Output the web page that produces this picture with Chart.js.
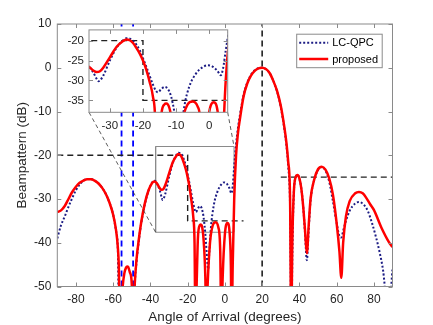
<!DOCTYPE html>
<html>
<head>
<meta charset="utf-8">
<script src="https://cdn.jsdelivr.net/npm/chart.js"></script>
<style>
  html, body { margin: 0; padding: 0; background: #fff; }
  #wrap { position: relative; width: 433px; height: 325px; }
  #main { position: absolute; left: 0; top: 0; }
  #inset { position: absolute; left: 60px; top: 18px; }
</style>
</head>
<body>
<div id="wrap">
  <canvas id="main" width="433" height="325"></canvas>
  <canvas id="inset" width="175" height="118"></canvas>
</div>
<script>
// beampattern values (dB vs angle of arrival in degrees)
const angProp = [-90,-88,-86,-84,-82,-80,-78,-76,-74,-72,-70,-68,-66,-64,-62,-60,-58.5,-57.5,-57,-56.3,-55,-54,-53,-52.5,-52,-51,-50,-49.5,-48.5,-47.5,-46,-45,-43,-41,-39,-38,-37,-36,-35,-34,-33,-32,-30,-28,-26,-25,-24,-23,-22,-21,-20,-19,-18,-17,-16.3,-15.8,-15.2,-14.5,-13.5,-13,-12.5,-11.5,-10.5,-10,-9.3,-8,-6.5,-5,-3.5,-2.5,-1.9,-1.2,0,1.4,2.5,3.2,3.6,4.2,5,6,7,8,10,12,14,16,18,20,22,24,26,28,30,32,33,34,35,35.6,36.2,37,38,39,40,41,42,43,44,45,46,48,50,52,54,56,58,60,61.5,62.5,63.5,65,67,70,72,74,76,78,80,84,88,90];
const dbProp = [-33,-32.6,-31.6,-30,-28.4,-27.2,-26.3,-25.8,-25.5,-25.5,-25.8,-26.4,-27.4,-28.8,-30.8,-33.6,-37,-41,-45,-60,-50.5,-47,-45.6,-45.4,-45.5,-46.8,-49.5,-60,-50,-44,-38.5,-35.5,-31,-28,-26.3,-26,-26.2,-26.8,-27.5,-27.9,-27.7,-26.8,-24.2,-21.6,-20.1,-19.7,-19.9,-20.6,-21.8,-23.2,-25,-27.3,-30.3,-34,-40,-60,-50,-39,-36,-35.8,-36,-39,-48,-60,-50,-40,-36,-35.3,-36.5,-42,-60,-48,-38,-35.5,-37.5,-45,-60,-45,-30,-20,-15,-11.9,-6.6,-3.6,-1.8,-0.7,-0.15,0,-0.3,-1.2,-3,-5.3,-8.7,-13.8,-17,-21.5,-30,-60,-40,-28.5,-25,-24.5,-25.3,-27.5,-31.5,-37,-42.4,-36,-30,-25.5,-23.2,-22.6,-23.3,-25.3,-29,-35.5,-42,-48,-40,-34,-30.5,-28.7,-28.4,-28.7,-29.8,-31.2,-32.5,-36.5,-39.8,-41];

const angLc = [-90,-88,-86,-84,-82,-80,-78,-76,-74,-72,-70,-68,-66,-64,-62,-60,-58.5,-57.5,-56.8,-55,-52,-49,-48.4,-47.5,-46,-45,-43,-41,-39,-38,-37,-36,-35,-34,-33.5,-33,-32,-30,-28,-26,-25,-24,-23,-22,-21,-20,-19,-18,-17,-16,-15.5,-14.5,-13.5,-12.5,-11.5,-10.5,-9.5,-9,-8.5,-7.5,-6,-4,-2,-0.5,1,2.5,3.5,4.2,5,6,7,8,10,12,14,16,18,20,22,24,26,28,30,32,33,34,35,35.7,36.3,37,38,39,40,41,42,43,44,45,46,48,50,52,54,56,58,60,61.5,62.5,63.5,65,67,70,72,75,77,79,81,83,85,86.5,88.5,90];
const dbLc = [-39,-36,-34,-31.8,-29.8,-28,-26.7,-25.8,-25.4,-25.4,-25.8,-26.4,-27.4,-28.8,-30.8,-33.6,-37.2,-41.5,-60,-65,-65,-60,-50,-44.5,-38.8,-35.7,-31.2,-28.1,-26.2,-25.8,-26,-26.8,-28,-29.6,-30.2,-30,-28.8,-25,-21.8,-19.9,-19.4,-19.5,-20,-21,-22.4,-24.4,-26.5,-28.8,-31,-32.7,-33,-32.2,-31.6,-32.1,-34,-38,-44,-46,-43,-36.5,-31.5,-28.3,-26.7,-26.2,-26.5,-27.6,-28.7,-27,-22.5,-17.5,-13.8,-11,-6.3,-3.4,-1.6,-0.6,-0.1,0,-0.3,-1.2,-3,-5.4,-8.9,-14.2,-17.6,-22.5,-32,-60,-40,-28.7,-25.1,-24.5,-25.3,-27.5,-31.5,-37.5,-44,-37,-30.3,-25.6,-23.4,-22.7,-23.5,-26,-30.5,-35.5,-38.5,-38.8,-37.3,-35,-32.7,-31,-30.7,-31.5,-33,-35.5,-38.5,-42,-46.5,-52,-53,-46];

const xTicks = [-80, -60, -40, -20, 0, 20, 40, 60, 80];
const yTicks = [-50, -40, -30, -20, -10, 0, 10];
const insetXTicks = [-30, -20, -10, 0];
const insetYTicks = [-35, -30, -25, -20];

// mask lines
const maskAng = [-90, -20, -20, 10];
const maskDb = [-20, -20, -35, -35];
const sideAng = [30, 90];
const sideDb = [-25, -25];
const lookDir = 20;
const nullDirs = [-55.5, -49.3];

// zoomed region (box in main plot) and inset axis limits
const zoomX = [-37.2, 4.9];
const zoomY = [-37.6, -18];
const insetX = [-36.3, 5.6];
const insetY = [-38, -17.3];

const pts = (xs, ys) => xs.map((x, i) => ({ x: x, y: ys[i] }));
const FONT = "'Liberation Sans', Arial, Helvetica, sans-serif";
const TXT = '#262626';

function curveSets() {
  return [
    { label: 'proposed', data: pts(angProp, dbProp), borderColor: '#ff0000', borderWidth: 2.5,
      cubicInterpolationMode: 'monotone', order: 0 },
    { label: 'LC-QPC', data: pts(angLc, dbLc), borderColor: '#1c1c84', borderWidth: 2,
      borderDash: [2, 2], cubicInterpolationMode: 'monotone', order: 1 },
    { data: pts(maskAng, maskDb), borderColor: '#222', borderWidth: 1.4, borderDash: [6, 4], order: 2 }
  ];
}

// box with inward ticks, MATLAB style
const frame = {
  id: 'frame',
  afterDatasetsDraw(chart) {
    const { ctx, chartArea: a, scales: { x, y } } = chart;
    const t = 4;
    ctx.save();
    ctx.strokeStyle = '#8a8a8a';
    ctx.lineWidth = 1;
    ctx.strokeRect(a.left, a.top, a.right - a.left, a.bottom - a.top);
    ctx.beginPath();
    x.ticks.forEach(tk => {
      const px = Math.round(x.getPixelForValue(tk.value)) + 0.5;
      ctx.moveTo(px, a.bottom); ctx.lineTo(px, a.bottom - t);
      ctx.moveTo(px, a.top); ctx.lineTo(px, a.top + t);
    });
    y.ticks.forEach(tk => {
      const py = Math.round(y.getPixelForValue(tk.value)) + 0.5;
      ctx.moveTo(a.left, py); ctx.lineTo(a.left + t, py);
      ctx.moveTo(a.right, py); ctx.lineTo(a.right - t, py);
    });
    ctx.stroke();
    ctx.restore();
  }
};

const whiteArea = {
  id: 'whiteArea',
  beforeDatasetsDraw(chart) {
    const { ctx, chartArea: a } = chart;
    ctx.save();
    ctx.fillStyle = '#fff';
    ctx.fillRect(a.left, a.top, a.right - a.left, a.bottom - a.top);
    ctx.restore();
  }
};

const insetChart = new Chart(document.getElementById('inset'), {
  type: 'line',
  data: { datasets: curveSets() },
  options: {
    responsive: false, animation: false, events: [],
    elements: { point: { radius: 0 }, line: { fill: false } },
    layout: { padding: { left: 0, top: 10.3, right: 7.3, bottom: 0 } },
    plugins: { legend: { display: false }, tooltip: { enabled: false } },
    scales: {
      x: {
        type: 'linear', min: insetX[0], max: insetX[1],
        afterBuildTicks: s => { s.ticks = insetXTicks.map(v => ({ value: v })); },
        afterFit: s => { s.height = 23.7; },
        grid: { display: false, drawTicks: false }, border: { display: false },
        ticks: { color: TXT, font: { family: FONT, size: 11.5 }, padding: 7, maxRotation: 0 }
      },
      y: {
        type: 'linear', min: insetY[0], max: insetY[1],
        afterBuildTicks: s => { s.ticks = insetYTicks.map(v => ({ value: v })); },
        afterFit: s => { s.width = 29; },
        grid: { display: false, drawTicks: false }, border: { display: false },
        ticks: { color: TXT, font: { family: FONT, size: 11.5 }, padding: 5 }
      }
    }
  },
  plugins: [whiteArea, frame]
});

// dashed lines from the zoom box to the inset
const connectors = {
  id: 'connectors',
  afterDatasetsDraw(chart) {
    const { ctx, scales: { x, y } } = chart;
    const cv = document.getElementById('inset');
    const ia = insetChart.chartArea;
    const ox = cv.offsetLeft, oy = cv.offsetTop;
    ctx.save();
    ctx.strokeStyle = '#333';
    ctx.lineWidth = 0.8;
    ctx.setLineDash([4, 3]);
    ctx.beginPath();
    ctx.moveTo(ox + ia.left, oy + ia.bottom);
    ctx.lineTo(x.getPixelForValue(zoomX[0]), y.getPixelForValue(zoomY[0]));
    ctx.moveTo(ox + ia.right, oy + ia.bottom);
    ctx.lineTo(x.getPixelForValue(zoomX[1]), y.getPixelForValue(zoomY[1]));
    ctx.stroke();
    ctx.restore();
  }
};

const legendBox = {
  id: 'legendBox',
  afterDraw(chart) {
    const { ctx, chartArea: a } = chart;
    const items = chart.data.datasets.filter(d => d.label).slice().reverse();
    const w = 85.5, h = 33.5;
    const bx = a.right - 10.8 - w, by = a.top + 9.7;
    ctx.save();
    ctx.fillStyle = '#fff';
    ctx.fillRect(bx, by, w, h);
    ctx.strokeStyle = '#8a8a8a';
    ctx.lineWidth = 1;
    ctx.strokeRect(bx + 0.5, by + 0.5, w, h);
    ctx.font = '11px ' + FONT;
    ctx.textBaseline = 'middle';
    items.forEach((d, i) => {
      const cy = by + 9 + i * 16.3;
      ctx.beginPath();
      ctx.strokeStyle = d.borderColor;
      ctx.lineWidth = d.borderWidth;
      ctx.setLineDash(d.borderDash || []);
      ctx.moveTo(bx + 3, cy);
      ctx.lineTo(bx + 32, cy);
      ctx.stroke();
      ctx.fillStyle = '#000';
      ctx.fillText(d.label, bx + 36, cy + 0.5);
    });
    ctx.restore();
  }
};

const mainSets = curveSets().concat([
  { data: pts(sideAng, sideDb), borderColor: '#222', borderWidth: 1.4, borderDash: [6, 4], order: 2 },
  { data: pts([lookDir, lookDir], [yTicks[0], yTicks[yTicks.length - 1]]), borderColor: '#111',
    borderWidth: 1.5, borderDash: [6, 4], order: 2 },
  { data: pts([nullDirs[0], nullDirs[0]], [yTicks[0], yTicks[yTicks.length - 1]]), borderColor: '#0000ff',
    borderWidth: 1.8, borderDash: [6, 4], order: 2 },
  { data: pts([nullDirs[1], nullDirs[1]], [yTicks[0], yTicks[yTicks.length - 1]]), borderColor: '#0000ff',
    borderWidth: 1.8, borderDash: [6, 4], order: 2 },
  { data: pts([zoomX[0], zoomX[1], zoomX[1], zoomX[0], zoomX[0]], [zoomY[0], zoomY[0], zoomY[1], zoomY[1], zoomY[0]]),
    borderColor: '#8a8a8a', borderWidth: 1, order: 3 }
]);

new Chart(document.getElementById('main'), {
  type: 'line',
  data: { datasets: mainSets },
  options: {
    responsive: false, animation: false, events: [],
    elements: { point: { radius: 0 }, line: { fill: false } },
    layout: { padding: { left: 0, top: 24, right: 40.5, bottom: 0 } },
    plugins: { legend: { display: false }, tooltip: { enabled: false } },
    scales: {
      x: {
        type: 'linear', min: -90, max: 90,
        afterBuildTicks: s => { s.ticks = xTicks.map(v => ({ value: v })); },
        afterFit: s => { s.height = 38.5; },
        grid: { display: false, drawTicks: false }, border: { display: false },
        ticks: { color: TXT, font: { family: FONT, size: 12 }, padding: 6, maxRotation: 0 },
        title: { display: true, text: 'Angle of Arrival (degrees)', color: TXT,
                 font: { family: FONT, size: 13.5 }, padding: 0 }
      },
      y: {
        type: 'linear', min: yTicks[0], max: yTicks[yTicks.length - 1],
        afterBuildTicks: s => { s.ticks = yTicks.map(v => ({ value: v })); },
        afterFit: s => { s.width = 57.3; },
        grid: { display: false, drawTicks: false }, border: { display: false },
        ticks: { color: TXT, font: { family: FONT, size: 12 }, padding: 6 },
        title: { display: true, text: 'Beampattern (dB)', color: TXT,
                 font: { family: FONT, size: 13.5 }, padding: { top: 14, bottom: 0 } }
      }
    }
  },
  plugins: [frame, connectors, legendBox]
});
</script>
</body>
</html>
